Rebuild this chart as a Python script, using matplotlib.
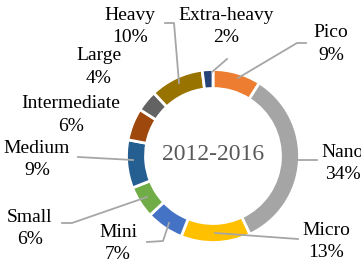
import matplotlib.pyplot as plt

names = ['Pico', 'Nano', 'Micro', 'Mini', 'Small', 'Medium',
         'Intermediate', 'Large', 'Heavy', 'Extra-heavy']
shares = [9, 34, 13, 7, 6, 9, 6, 4, 10, 2]
colors = ['#ED7D31', '#A5A5A5', '#FFC000', '#4472C4', '#70AD47', '#255E91',
          '#9E480E', '#636363', '#997300', '#264478']
center_label = '2012-2016'

W, H = 361, 264
fig = plt.figure(figsize=(W / 100, H / 100), dpi=100)
ax = fig.add_axes([0, 0, 1, 1])

cx, cy = 213, H - 156
ax.pie(shares, colors=colors, startangle=90, counterclock=False,
       radius=86.5, center=(cx, cy),
       wedgeprops=dict(width=19, edgecolor='white', linewidth=2))

# label spots in image pixels: (x, baseline name, baseline pct)
label_pos = {
    'Pico': (331, 37, 60),
    'Nano': (343, 157, 179),
    'Micro': (326, 235, 257),
    'Mini': (118, 237, 259),
    'Small': (30, 222, 244),
    'Medium': (37, 153, 175),
    'Intermediate': (71, 108, 131),
    'Large': (99, 60, 83),
    'Heavy': (130, 20, 42),
    'Extra-heavy': (226, 20, 42),
}
leaders = {
    'Pico': [(306, 43), (297, 43), (238, 78)],
    'Nano': [(298, 160), (317, 160)],
    'Micro': [(215, 233), (298, 239)],
    'Mini': [(147, 242), (163, 241), (169, 223)],
    'Small': [(62, 223), (72, 223), (147, 197)],
    'Medium': [(78, 157), (133, 160)],
    'Heavy': [(165, 23), (174, 23), (179, 83)],
    'Extra-heavy': [(227, 59), (212, 72)],
}

font = dict(family='Liberation Serif', fontsize=14, color='black')
for name, val in zip(names, shares):
    x, b1, b2 = label_pos[name]
    ax.text(x, H - b1, name, ha='center', va='baseline', **font)
    ax.text(x, H - b2, f'{val}%', ha='center', va='baseline', **font)
    if name in leaders:
        pts = leaders[name]
        ax.plot([p[0] for p in pts], [H - p[1] for p in pts],
                color='#A6A6A6', lw=1.3, zorder=5)

ax.text(cx, H - 155, center_label, ha='center', va='center',
        family='Liberation Serif', fontsize=17, color='#595959')

ax.set_xlim(0, W)
ax.set_ylim(0, H)
ax.set_aspect('auto')
ax.axis('off')

fig.savefig('out.png', dpi=100, facecolor='white')
